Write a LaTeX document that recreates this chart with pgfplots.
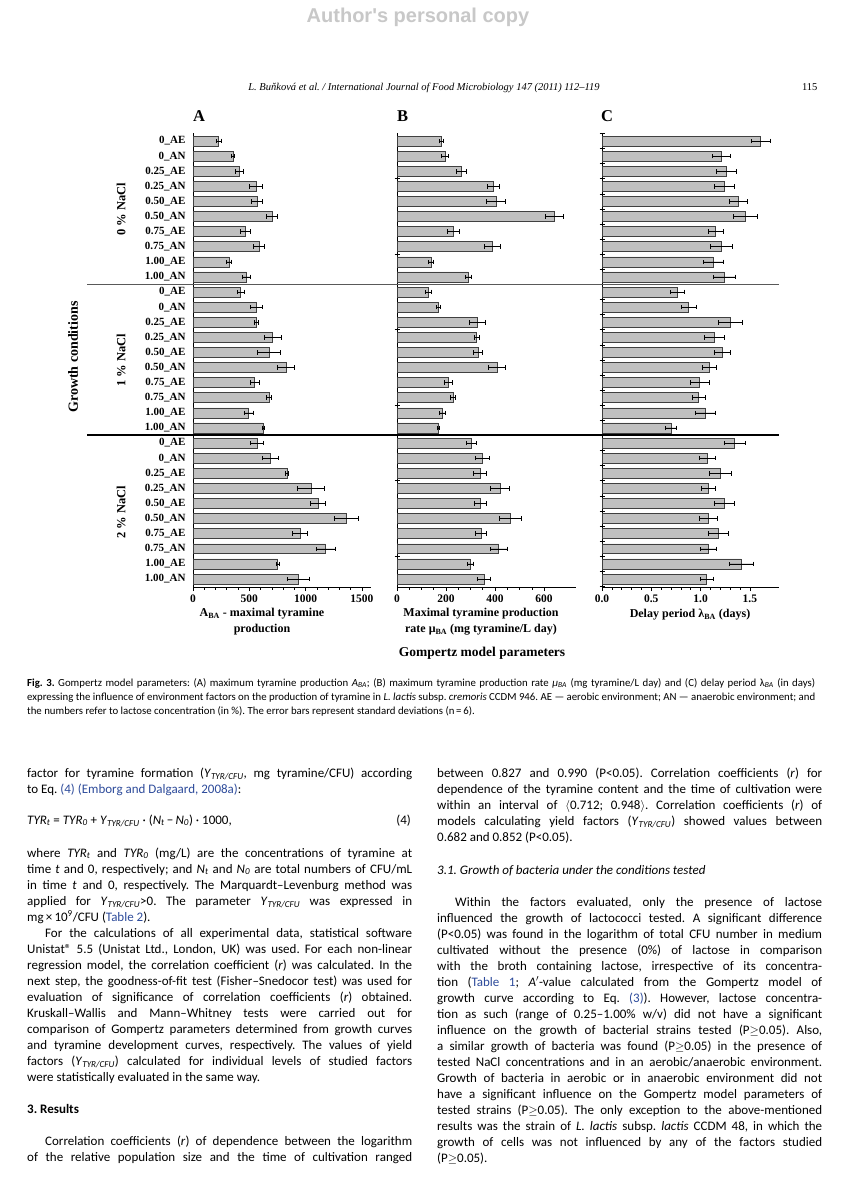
\documentclass[border=0pt]{standalone}
\usepackage{fontspec}
\setmainfont{Liberation Serif}
\newfontfamily\bodyfont{Carlito}
\newfontfamily\wmfont{Liberation Sans}
\usepackage{pgfplots}
\usepackage{pgfplotstable}
\pgfplotsset{compat=1.18}
\definecolor{barfill}{RGB}{192,192,192}
\definecolor{linkblue}{RGB}{45,75,155}
\definecolor{wmgray}{RGB}{200,200,200}
\frenchspacing

\pgfplotstableread{
i v e
0 228 25
1 355 15
2 411 35
3 559 55
4 568 50
5 701 50
6 465 45
7 586 50
8 320 22
9 474 37
10 423 30
11 562 55
12 562 20
13 707 75
14 675 100
15 826 75
16 548 38
17 675 20
18 494 42
19 622 8
20 568 55
21 687 70
22 835 12
23 1048 120
24 1110 68
25 1359 108
26 950 68
27 1175 85
28 752 15
29 932 98
}\tabA

\pgfplotstableread{
i v e
0 181 7
1 196 14
2 261 20
3 393 23
4 404 38
5 641 36
6 230 23
7 389 34
8 139 11
9 291 14
10 126 12
11 169 7
12 328 33
13 325 9
14 330 18
15 407 33
16 208 17
17 228 11
18 185 12
19 169 5
20 303 19
21 347 28
22 339 26
23 420 40
24 340 23
25 461 45
26 343 22
27 415 33
28 299 12
29 354 28
}\tabB

\pgfplotstableread{
i v e
0 1.61 0.095
1 1.21 0.09
2 1.26 0.10
3 1.24 0.10
4 1.38 0.09
5 1.45 0.12
6 1.15 0.075
7 1.21 0.11
8 1.125 0.10
9 1.24 0.11
10 0.76 0.07
11 0.88 0.08
12 1.30 0.12
13 1.14 0.10
14 1.22 0.085
15 1.09 0.073
16 0.99 0.093
17 0.98 0.066
18 1.05 0.10
19 0.70 0.055
20 1.345 0.105
21 1.07 0.083
22 1.20 0.115
23 1.08 0.073
24 1.24 0.097
25 1.075 0.09
26 1.18 0.10
27 1.075 0.083
28 1.41 0.124
29 1.06 0.066
}\tabC

\pgfplotsset{
  panel/.style={
    scale only axis, height=454pt,
    ymin=-0.53, ymax=29.53, y dir=reverse, xmin=0,
    axis x line*=bottom, axis y line*=left,
    axis line style={-, line width=0.9pt, black},
    tick style={black, line width=0.7pt},
    tick align=outside,
    major tick length=4pt, minor tick length=2.5pt,
    scaled x ticks=false,
    x tick label style={font=\fontsize{11.5}{12}\selectfont\bfseries,
      /pgf/number format/assume math mode=true,
      /pgf/number format/1000 sep={}},
    ytick=\empty,
    extra y tick labels={},
    extra y tick style={tick align=center, major tick length=5pt, tick style={draw=black}},
    clip=false,
  },
  bars/.style={xbar, bar width=0.66, bar shift=0pt, fill=barfill,
    draw=black!75, line width=0.6pt,
    error bars/.cd, x dir=both, x explicit,
    error mark=|,
    error bar style={line width=0.6pt, black},
    error mark options={black, mark size=2.3pt, line width=0.6pt}},
}

\newcommand{\Y}{\textit{Y}\textsubscript{\textit{TYR/CFU}}}
\newcommand{\blue}[1]{\textcolor{linkblue}{#1}}
\newcommand{\JL}[2]{\node[anchor=base west,inner sep=0pt,mybody] at (27pt,-#1pt) {\hbox to 385pt{#2}};}
\newcommand{\NL}[2]{\node[anchor=base west,inner sep=0pt,mybody] at (27pt,-#1pt) {#2};}
\newcommand{\IL}[2]{\node[anchor=base west,inner sep=0pt,mybody] at (45pt,-#1pt) {\hbox to 367pt{#2}};}
\newcommand{\JR}[2]{\node[anchor=base west,inner sep=0pt,mybody] at (437pt,-#1pt) {\hbox to 385pt{#2}};}
\newcommand{\NR}[2]{\node[anchor=base west,inner sep=0pt,mybody] at (437pt,-#1pt) {#2};}
\newcommand{\IR}[2]{\node[anchor=base west,inner sep=0pt,mybody] at (455pt,-#1pt) {\hbox to 367pt{#2}};}
\newcommand{\CL}[2]{\node[anchor=base west,inner sep=0pt,mycap] at (27pt,-#1pt) {\hbox to 788pt{#2}};}

\tikzset{
  mybody/.style={font=\bodyfont\fontsize{13}{16}\selectfont},
  mycap/.style={font=\bodyfont\fontsize{10.8}{14}\selectfont},
}

\begin{document}
\begin{tikzpicture}
\useasboundingbox (0,0) rectangle (842pt,-1180pt);
\fill[white] (0,0) rectangle (842pt,-1180pt);

% watermark and running head
\node[font=\wmfont\bfseries\fontsize{20}{22}\selectfont, text=wmgray] at (418pt,-17pt) {Author's personal copy};
\node[anchor=base, font=\itshape\fontsize{10.5}{12}\selectfont] at (424pt,-91pt) {L. Buňková et al. / International Journal of Food Microbiology 147 (2011) 112–119};
\node[anchor=base east, font=\fontsize{10.5}{12}\selectfont] at (821pt,-91pt) {115};

% Panel A
\begin{axis}[panel, name=axA, at={(193pt,-133pt)}, anchor=north west,
  width=178pt, xmax=1580,
  xtick={0,500,1000,1500}, minor x tick num=4,
  ytick={0,...,29},
  y tick style={draw=none},
  yticklabels={0\_AE,0\_AN,0.25\_AE,0.25\_AN,0.50\_AE,0.50\_AN,0.75\_AE,0.75\_AN,1.00\_AE,1.00\_AN,
               0\_AE,0\_AN,0.25\_AE,0.25\_AN,0.50\_AE,0.50\_AN,0.75\_AE,0.75\_AN,1.00\_AE,1.00\_AN,
               0\_AE,0\_AN,0.25\_AE,0.25\_AN,0.50\_AE,0.50\_AN,0.75\_AE,0.75\_AN,1.00\_AE,1.00\_AN},
  y tick label style={font=\fontsize{11}{12}\selectfont\bfseries},
  extra y ticks={-0.5,0.5,...,29.5},
]
\addplot[bars] table[x=v, y=i, x error=e] {\tabA};
\end{axis}

% Panel B
\begin{axis}[panel, at={(397pt,-133pt)}, anchor=north west,
  width=179pt, xmax=730,
  xtick={0,200,400,600}, minor x tick num=3,
  extra y ticks={2.5,7.5,...,27.5},
]
\addplot[bars] table[x=v, y=i, x error=e] {\tabB};
\end{axis}

% Panel C
\begin{axis}[panel, at={(602pt,-133pt)}, anchor=north west,
  width=177pt, xmax=1.795,
  xtick={0,0.5,1,1.5}, minor x tick num=4,
  x tick label style={/pgf/number format/.cd, fixed, fixed zerofill, precision=1},
  extra y ticks={-0.5,0.5,...,29.5},
]
\addplot[bars] table[x=v, y=i, x error=e] {\tabC};
\end{axis}

% group separators
\draw[black!65, line width=1pt] (87pt,-284pt) -- (779pt,-284pt);
\draw[black, line width=1.2pt] (87pt,-435pt) -- (779pt,-435pt);

% panel letters
\node[anchor=west, font=\bfseries\fontsize{16.5}{18}\selectfont, inner sep=0pt] at (193pt,-116pt) {A};
\node[anchor=west, font=\bfseries\fontsize{16.5}{18}\selectfont, inner sep=0pt] at (397pt,-116pt) {B};
\node[anchor=west, font=\bfseries\fontsize{16.5}{18}\selectfont, inner sep=0pt] at (601pt,-116pt) {C};

% group labels
\node[rotate=90, font=\bfseries\fontsize{12.5}{14}\selectfont] at (121pt,-209pt) {0 \% NaCl};
\node[rotate=90, font=\bfseries\fontsize{12.5}{14}\selectfont] at (121pt,-360pt) {1 \% NaCl};
\node[rotate=90, font=\bfseries\fontsize{12.5}{14}\selectfont] at (121pt,-512pt) {2 \% NaCl};
\node[rotate=90, font=\bfseries\fontsize{14}{16}\selectfont] at (73pt,-357pt) {Growth conditions};

% axis titles
\node[align=center, font=\bfseries\fontsize{12}{16}\selectfont] at (262pt,-622pt) {A\textsubscript{BA} - maximal tyramine\\production};
\node[align=center, font=\bfseries\fontsize{12}{16}\selectfont] at (481pt,-622pt) {Maximal tyramine production\\rate μ\textsubscript{BA} (mg tyramine/L day)};
\node[font=\bfseries\fontsize{12}{16}\selectfont] at (690pt,-615pt) {Delay period λ\textsubscript{BA} (days)};
\node[font=\bfseries\fontsize{13.5}{16}\selectfont] at (482pt,-653pt) {Gompertz model parameters};

% caption
\CL{686}{\textbf{Fig. 3.} Gompertz model parameters: (A) maximum tyramine production \textit{A}\textsubscript{\textit{BA}}; (B) maximum tyramine production rate \textit{μ}\textsubscript{\textit{BA}} (mg tyramine/L day) and (C) delay period λ\textsubscript{\textit{BA}} (in days)}
\CL{700}{expressing the influence of environment factors on the production of tyramine in \textit{L. lactis} subsp. \textit{cremoris} CCDM 946. AE — aerobic environment; AN — anaerobic environment; and}
\node[anchor=base west,inner sep=0pt,mycap] at (27pt,-714pt) {the numbers refer to lactose concentration (in \%). The error bars represent standard deviations (n\,=\,6).};

% left column
\JL{777}{factor for tyramine formation (\Y, mg tyramine/CFU) according}
\NL{793}{to Eq. \blue{(4)} \blue{(Emborg and Dalgaard, 2008a)}:}
\NL{824}{\textit{TYR}\textsubscript{\textit{t}} = \textit{TYR}\textsubscript{\textit{0}} + \Y\ · (\textit{N}\textsubscript{\textit{t}}\,−\,\textit{N}\textsubscript{\textit{0}}) · 1000,}
\node[anchor=base east,inner sep=0pt,mybody] at (411pt,-824pt) {(4)};
\JL{857}{where \textit{TYR}\textsubscript{\textit{t}} and \textit{TYR}\textsubscript{\textit{0}} (mg/L) are the concentrations of tyramine at}
\JL{873}{time \textit{t} and 0, respectively; and \textit{N}\textsubscript{\textit{t}} and \textit{N}\textsubscript{\textit{0}} are total numbers of CFU/mL}
\JL{889}{in time \textit{t} and 0, respectively. The Marquardt–Levenburg method was}
\JL{905}{applied for \Y>0. The parameter \Y\ was expressed in}
\NL{921}{mg\,×\,10\textsuperscript{9}/CFU (\blue{Table 2}).}
\IL{937}{For the calculations of all experimental data, statistical software}
\JL{953}{Unistat® 5.5 (Unistat Ltd., London, UK) was used. For each non-linear}
\JL{969}{regression model, the correlation coefficient (\textit{r}) was calculated. In the}
\JL{985}{next step, the goodness-of-fit test (Fisher–Snedocor test) was used for}
\JL{1001}{evaluation of significance of correlation coefficients (\textit{r}) obtained.}
\JL{1017}{Kruskall–Wallis and Mann–Whitney tests were carried out for}
\JL{1033}{comparison of Gompertz parameters determined from growth curves}
\JL{1049}{and tyramine development curves, respectively. The values of yield}
\JL{1065}{factors (\Y) calculated for individual levels of studied factors}
\NL{1081}{were statistically evaluated in the same way.}
\NL{1113}{\bfseries 3. Results}
\IL{1145}{Correlation coefficients (\textit{r}) of dependence between the logarithm}
\JL{1161}{of the relative population size and the time of cultivation ranged}

% right column
\JR{777}{between 0.827 and 0.990 (P<0.05). Correlation coefficients (\textit{r}) for}
\JR{793}{dependence of the tyramine content and the time of cultivation were}
\JR{809}{within an interval of $\langle$0.712; 0.948$\rangle$. Correlation coefficients (\textit{r}) of}
\JR{825}{models calculating yield factors (\Y) showed values between}
\NR{841}{0.682 and 0.852 (P<0.05).}
\NR{874}{\itshape 3.1. Growth of bacteria under the conditions tested}
\IR{906}{Within the factors evaluated, only the presence of lactose}
\JR{922}{influenced the growth of lactococci tested. A significant difference}
\JR{938}{(P<0.05) was found in the logarithm of total CFU number in medium}
\JR{954}{cultivated without the presence (0\%) of lactose in comparison}
\JR{970}{with the broth containing lactose, irrespective of its concentra-}
\JR{986}{tion (\blue{Table 1}; \textit{A}$'$-value calculated from the Gompertz model of}
\JR{1002}{growth curve according to Eq. \blue{(3)}). However, lactose concentra-}
\JR{1018}{tion as such (range of 0.25–1.00\% w/v) did not have a significant}
\JR{1034}{influence on the growth of bacterial strains tested (P$\geq$0.05). Also,}
\JR{1050}{a similar growth of bacteria was found (P$\geq$0.05) in the presence of}
\JR{1066}{tested NaCl concentrations and in an aerobic/anaerobic environment.}
\JR{1082}{Growth of bacteria in aerobic or in anaerobic environment did not}
\JR{1098}{have a significant influence on the Gompertz model parameters of}
\JR{1114}{tested strains (P$\geq$0.05). The only exception to the above-mentioned}
\JR{1130}{results was the strain of \textit{L. lactis} subsp. \textit{lactis} CCDM 48, in which the}
\JR{1146}{growth of cells was not influenced by any of the factors studied}
\NR{1162}{(P$\geq$0.05).}
\end{tikzpicture}
\end{document}
